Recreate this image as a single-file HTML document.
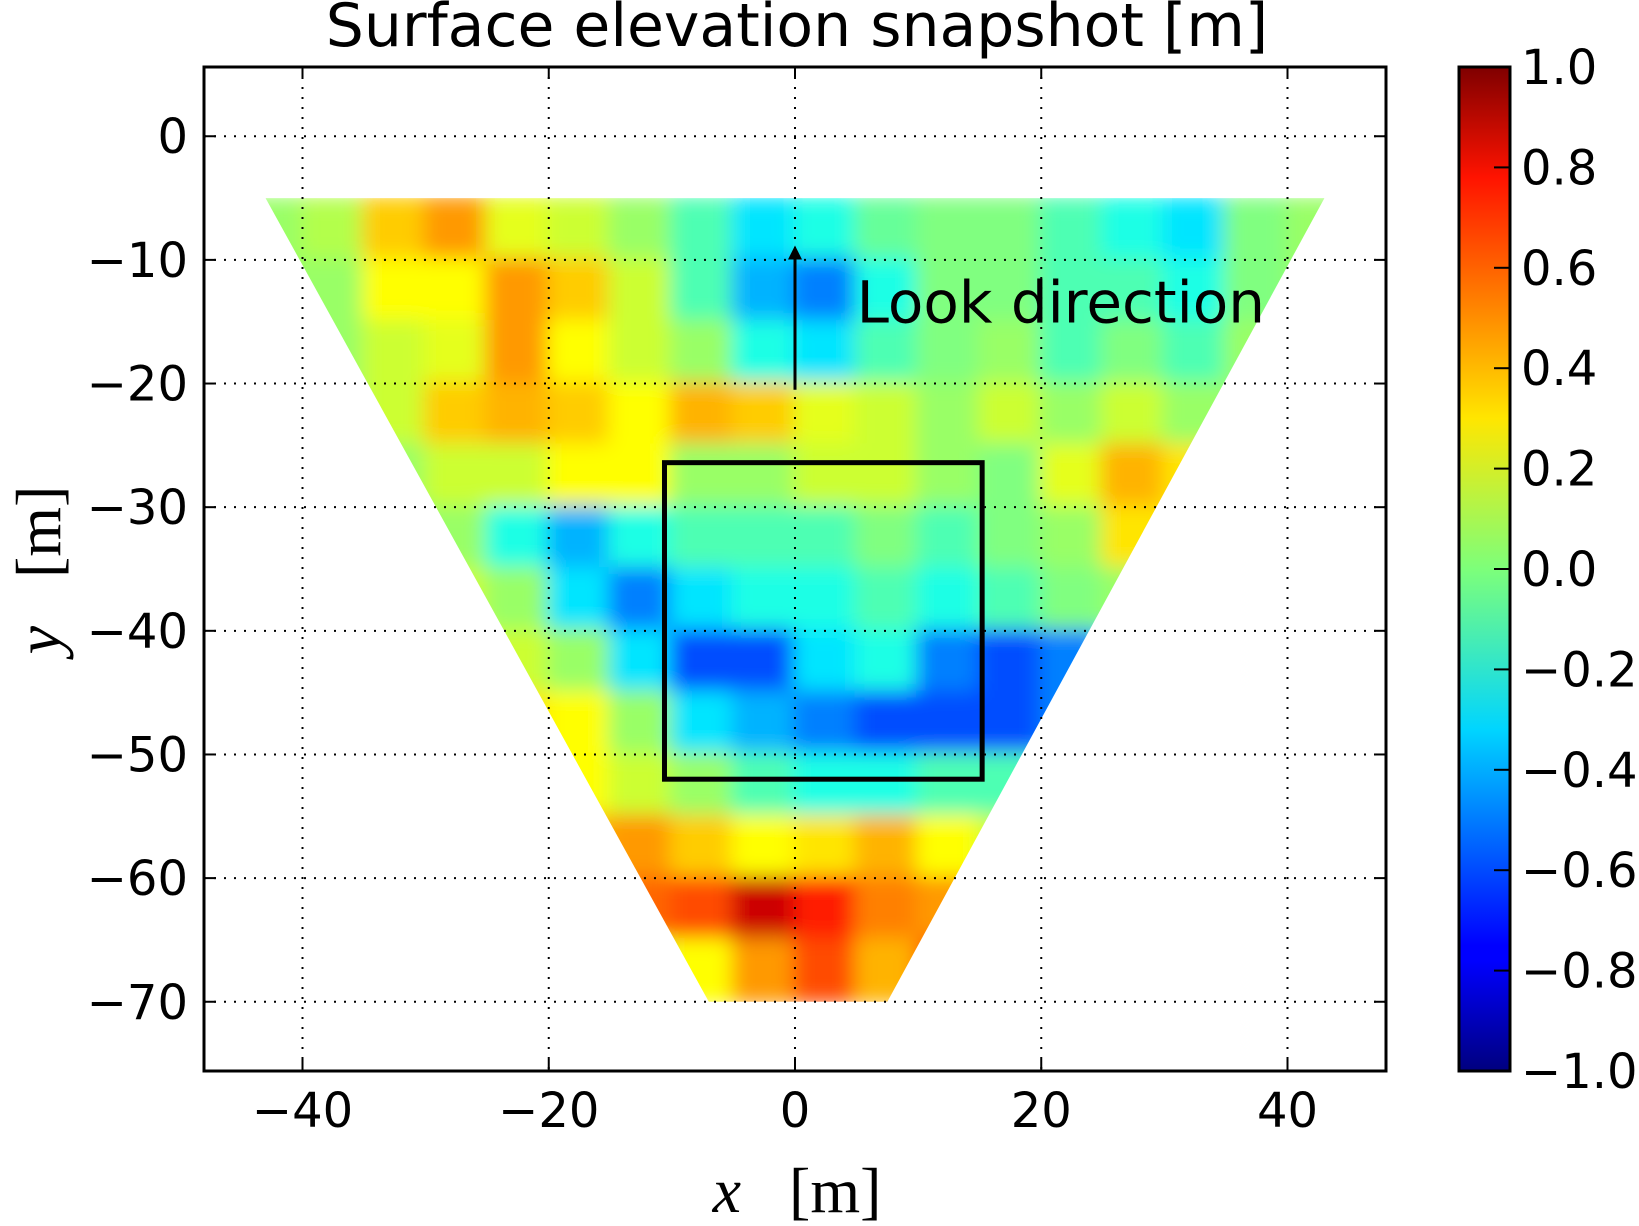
<!DOCTYPE html>
<html><head><meta charset="utf-8"><style>
html,body{margin:0;padding:0;background:#fff;}
svg{display:block;font-family:"DejaVu Sans","Liberation Sans",sans-serif;}
</style></head><body>
<svg id="chart" width="1639" height="1226" viewBox="0 0 1639 1226" xmlns="http://www.w3.org/2000/svg">
<defs>
<filter id="blur" x="-5%" y="-5%" width="110%" height="110%"><feGaussianBlur stdDeviation="10"/></filter>
<clipPath id="fan"><polygon id="fanpoly" points=""/></clipPath>
<linearGradient id="jet" x1="0" y1="1" x2="0" y2="0">
<stop offset="0" stop-color="#00007f"/><stop offset="0.11" stop-color="#0000ff"/><stop offset="0.125" stop-color="#0000ff"/>
<stop offset="0.34" stop-color="#00d5ff"/><stop offset="0.5" stop-color="#7dff7a"/><stop offset="0.65" stop-color="#ffe600"/>
<stop offset="0.89" stop-color="#ff1300"/><stop offset="1" stop-color="#7f0000"/>
</linearGradient>
</defs>
<text x="797" y="46" font-size="60" text-anchor="middle">Surface elevation snapshot [m]</text>
<g id="heat" clip-path="url(#fan)"><g id="cells" filter="url(#blur)"></g></g>
<g id="grid"></g>
<rect x="204" y="67" width="1182" height="1004" fill="none" stroke="#000" stroke-width="3"/>
<text transform="translate(60,570) rotate(-90)" font-size="64" text-anchor="middle" font-family="'Liberation Serif',serif" xml:space="preserve"><tspan font-style="italic">y</tspan>   [m]</text>
<text x="797" y="1212" font-size="64" text-anchor="middle" font-family="'Liberation Serif',serif" xml:space="preserve"><tspan font-style="italic">x</tspan>   [m]</text>
<rect x="1459" y="67" width="51" height="1004" fill="url(#jet)" stroke="#000" stroke-width="3"/>
<g id="cbar"></g>
</svg>
<script>
const xTicks=[-40,-20,0,20,40];
const yTicks=[0,-10,-20,-30,-40,-50,-60,-70];
const cbTicks=[1.0,0.8,0.6,0.4,0.2,0.0,-0.2,-0.4,-0.6,-0.8,-1.0];
const colCenters=[-42.5,-37.5,-32.5,-27.5,-22.5,-17.5,-12.5,-7.5,-2.5,2.5,7.5,12.5,17.5,22.5,27.5,32.5,37.5,42.5];
const rowCenters=[-7.5,-12.5,-17.5,-22.5,-27.5,-32.5,-37.5,-42.5,-47.5,-52.5,-57.5,-62.5,-67.5];
const r0=[0.05,0.1,0.35,0.45,0.2,0.15,0.05,-0.1,-0.3,-0.2,-0.05,0,0,-0.1,-0.2,-0.3,0,0.05];
const r1=[0.05,0.05,0.25,0.25,0.45,0.35,0.15,-0.1,-0.4,-0.5,-0.2,0,0,-0.1,-0.1,-0.2,0,0.05];
const r2=[0.05,0.05,0.15,0.2,0.45,0.25,0.15,0.05,-0.2,-0.3,-0.1,0,0.05,-0.1,0,-0.1,0.05,0.05];
const r3=[0.05,0.05,0.15,0.35,0.4,0.35,0.25,0.4,0.35,0.2,0.15,0.05,0.15,0.05,0.15,0.05,0.05,0.05];
const r4=[0.05,0.05,0.05,0.15,0.15,0.25,0.25,0.05,0.05,0.15,0.15,0.05,0,0.2,0.4,0.3,0.15,0.05];
const r5=[0,0,0,0.05,-0.2,-0.4,-0.2,-0.1,-0.1,-0.1,0,-0.1,0,0.05,0.3,0.3,0.15,0.05];
const r6=[0,0,0.05,0.15,0.05,-0.3,-0.5,-0.3,-0.2,-0.2,-0.1,-0.2,-0.1,0,0.05,0.3,0.4,0.05];
const r7=[0,0,0.05,0.3,0.15,0.05,-0.3,-0.6,-0.6,-0.3,-0.2,-0.5,-0.6,-0.5,-0.3,0,0.15,0.05];
const r8=[0,0,0.05,0.3,0.3,0.25,0.05,-0.3,-0.4,-0.5,-0.6,-0.6,-0.6,-0.5,-0.3,0,0.05,0];
const r9=[0,0,0.05,0.15,0.15,0.25,0.15,0.05,-0.1,-0.2,-0.2,-0.1,-0.1,-0.2,-0.3,0,0,0];
const r10=[0,0,0.05,0.15,0.25,0.4,0.45,0.35,0.25,0.3,0.4,0.25,0.15,0.05,0,0,0,0];
const r11=[0,0,0.05,0.15,0.25,0.4,0.55,0.6,0.85,0.7,0.5,0.45,0.25,0.15,0,0,0,0];
const r12=[0,0,0.05,0.15,0.25,0.35,0.15,0.25,0.45,0.6,0.4,0.6,0.8,0.3,0,0,0,0];
const values=[r0,r1,r2,r3,r4,r5,r6,r7,r8,r9,r10,r11,r12];
const fanX=[-43,43,7.5,-7];
const fanY=[-5,-5,-70,-70];
const boxX=[-10.6,15.2];
const boxY=[-26.4,-52];
const arrowY=[-20.5,-9];

const NS="http://www.w3.org/2000/svg";
const X0=-48,X1=48,Y0=-75.6,Y1=5.6,L=204,R=1386,T=67,B=1071;
const sx=v=>L+(v-X0)/(X1-X0)*(R-L);
const sy=v=>B-(v-Y0)/(Y1-Y0)*(B-T);
const cy=v=>1071-(v+1)/2*1004;
function mk(tag,at,parent){const e=document.createElementNS(NS,tag);for(const k in at)e.setAttribute(k,at[k]);parent.appendChild(e);return e;}
function jet(v){const t=(v+1)/2;const c=x=>Math.max(0,Math.min(1,x));
 const r=c(1.5-Math.abs(4*t-3)),g=c(1.5-Math.abs(4*t-2)),b=c(1.5-Math.abs(4*t-1));
 return `rgb(${Math.round(r*255)},${Math.round(g*255)},${Math.round(b*255)})`;}
const svg=document.getElementById('chart');
document.getElementById('fanpoly').setAttribute('points',fanX.map((x,i)=>sx(x)+','+sy(fanY[i])).join(' '));
const cells=document.getElementById('cells');
const cw=sx(5)-sx(0),ch=sy(0)-sy(5);
values.forEach((row,i)=>row.forEach((v,j)=>{
 const e=mk('rect',{x:sx(colCenters[j])-cw/2-2,y:sy(rowCenters[i])-ch/2-2,width:cw+4,height:ch+4,fill:jet(v)},cells);
 
 
}));
const grid=document.getElementById('grid');
xTicks.forEach(t=>{
 mk('line',{x1:sx(t),x2:sx(t),y1:T,y2:B,stroke:'#000','stroke-width':2,'stroke-dasharray':'2 8'},grid);
 mk('line',{x1:sx(t),x2:sx(t),y1:B,y2:B-12,stroke:'#000','stroke-width':2},grid);
 mk('line',{x1:sx(t),x2:sx(t),y1:T,y2:T+12,stroke:'#000','stroke-width':2},grid);
 const tx=mk('text',{x:sx(t),y:1127,'font-size':48,'text-anchor':'middle'},svg);
 tx.textContent=(t<0?'\u2212':'')+Math.abs(t);
 
 
});
yTicks.forEach(t=>{
 mk('line',{x1:L,x2:R,y1:sy(t),y2:sy(t),stroke:'#000','stroke-width':2,'stroke-dasharray':'2 8'},grid);
 mk('line',{x1:L,x2:L+12,y1:sy(t),y2:sy(t),stroke:'#000','stroke-width':2},grid);
 mk('line',{x1:R,x2:R-12,y1:sy(t),y2:sy(t),stroke:'#000','stroke-width':2},grid);
 const tx=mk('text',{x:188,y:sy(t)+17,'font-size':48,'text-anchor':'end'},svg);
 tx.textContent=(t<0?'\u2212':'')+Math.abs(t);
 
 
});
const box=mk('rect',{x:sx(boxX[0]),y:sy(boxY[0]),width:sx(boxX[1])-sx(boxX[0]),height:sy(boxY[1])-sy(boxY[0]),fill:'none',stroke:'#000','stroke-width':5},svg);


const ar=mk('line',{x1:sx(0),x2:sx(0),y1:sy(arrowY[0]),y2:sy(arrowY[1])+8,stroke:'#000','stroke-width':3},svg);


const ah=mk('polygon',{points:`${sx(0)-7},${sy(arrowY[1])+12} ${sx(0)+7},${sy(arrowY[1])+12} ${sx(0)},${sy(arrowY[1])-2}`,fill:'#000'},svg);


const lt=mk('text',{x:sx(5),y:sy(-15)+1,'font-size':58},svg);
lt.textContent='Look direction';


const cb=document.getElementById('cbar');
cbTicks.forEach(t=>{
 mk('line',{x1:1494,x2:1510,y1:cy(t),y2:cy(t),stroke:'#000','stroke-width':2},cb);
 const tx=mk('text',{x:1521,y:cy(t)+17,'font-size':48},cb);
 tx.textContent=(t<0?'\u2212':'')+Math.abs(t).toFixed(1);
 
 
});
</script>
</body></html>
